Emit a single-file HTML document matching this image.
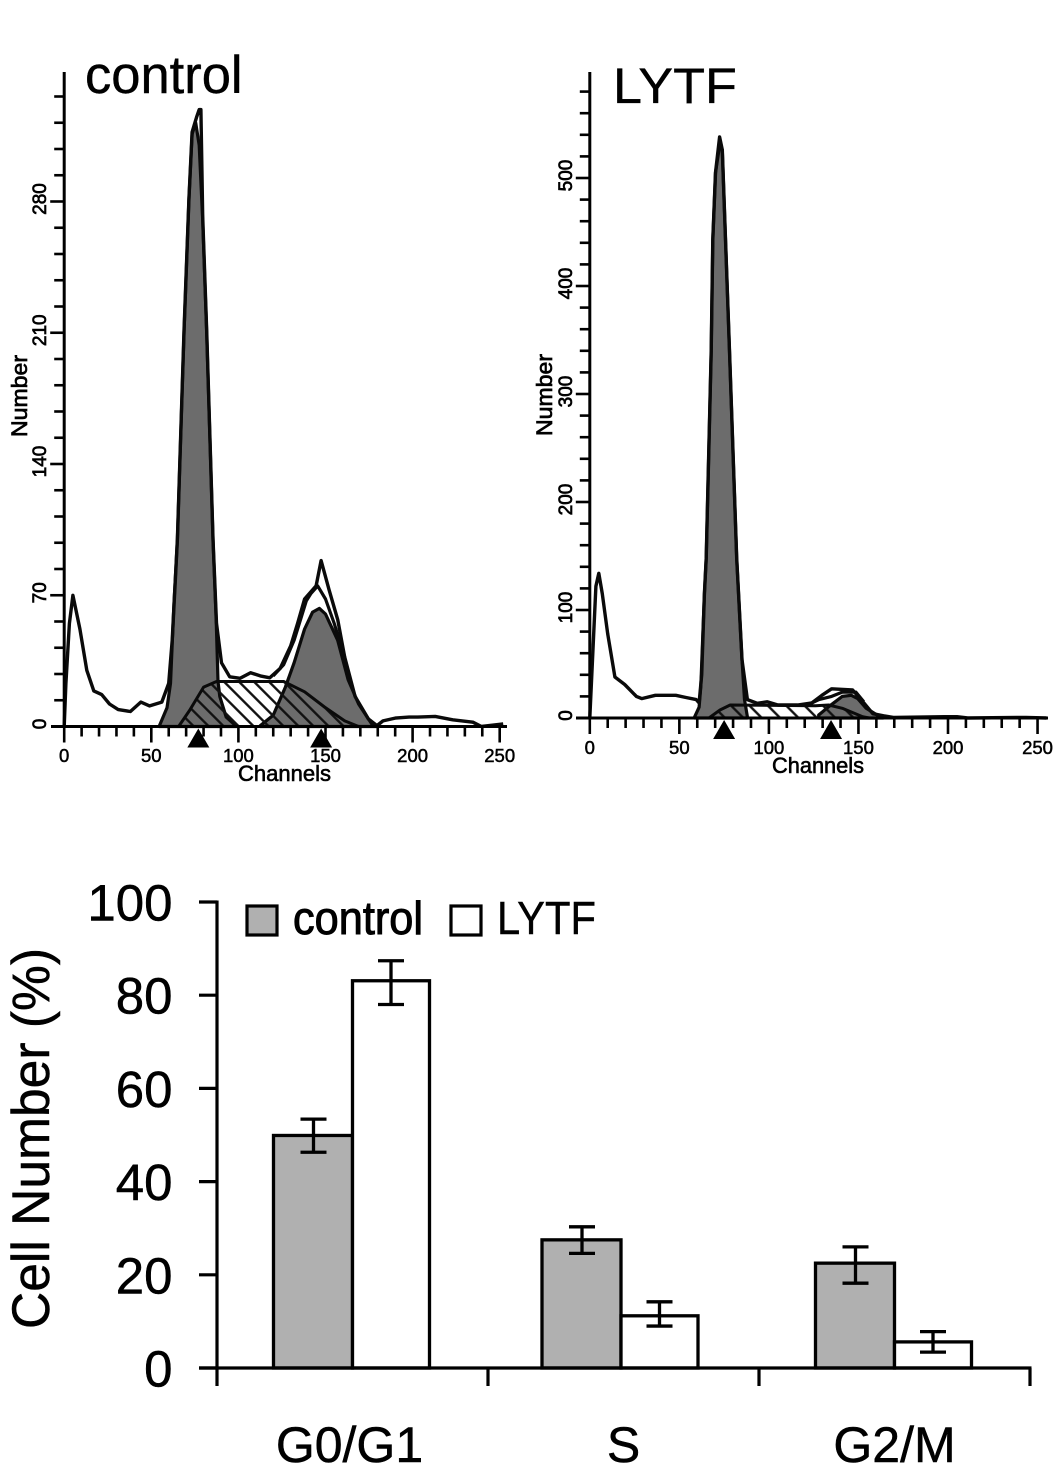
<!DOCTYPE html>
<html lang="en">
<head>
<meta charset="utf-8">
<title>Cell cycle histograms and phase distribution</title>
<style>
html,body{margin:0;padding:0;background:#fff;width:1063px;height:1466px;overflow:hidden}
svg{display:block;font-family:"Liberation Sans",Arial,sans-serif}
</style>
</head>
<body>
<svg id="figure" xmlns="http://www.w3.org/2000/svg" width="1063" height="1466" viewBox="0 0 1063 1466">
  <defs>
    <pattern id="hatch-control" patternUnits="userSpaceOnUse" width="10.6" height="10.6" patternTransform="rotate(-45)">
      <line x1="5" y1="0" x2="5" y2="10.6" stroke="#111" stroke-width="2.4"/>
    </pattern>
    <pattern id="hatch-lytf" patternUnits="userSpaceOnUse" width="13" height="13" patternTransform="rotate(-45)">
      <line x1="5" y1="0" x2="5" y2="13" stroke="#111" stroke-width="2.4"/>
    </pattern>
  </defs>
  <rect width="1063" height="1466" fill="#fff"/>
  <g id="control-panel">
    <text x="85" y="93" font-size="52.5" fill="#000" stroke="#000" stroke-width=".4">control</text>
    <text transform="translate(27 396) rotate(-90)" text-anchor="middle" font-size="22" textLength="82" lengthAdjust="spacingAndGlyphs" stroke="#000" stroke-width=".7">Number</text>
    <text x="284.5" y="781" text-anchor="middle" font-size="22" textLength="93" lengthAdjust="spacingAndGlyphs" stroke="#000" stroke-width=".6">Channels</text>
  </g>
  <g id="lytf-panel">
    <text x="613" y="103" font-size="50" fill="#000" textLength="124" lengthAdjust="spacingAndGlyphs" stroke="#000" stroke-width=".3">LYTF</text>
    <text transform="translate(552 395) rotate(-90)" text-anchor="middle" font-size="22" textLength="82" lengthAdjust="spacingAndGlyphs" stroke="#000" stroke-width=".7">Number</text>
    <text x="818" y="773" text-anchor="middle" font-size="22" textLength="92" lengthAdjust="spacingAndGlyphs" stroke="#000" stroke-width=".6">Channels</text>
  </g>
  <g id="bar-panel">
    <text transform="translate(49 1138.5) rotate(-90)" text-anchor="middle" font-size="53" textLength="381" lengthAdjust="spacingAndGlyphs" stroke="#000" stroke-width=".5">Cell Number (%)</text>
    <g>
      <rect x="247" y="906" width="30" height="29" fill="#b0b0b0" stroke="#000" stroke-width="3.2"/>
      <text x="293" y="934" font-size="46" textLength="130" lengthAdjust="spacingAndGlyphs" stroke="#000" stroke-width="1">control</text>
      <rect x="451" y="906" width="30" height="29" fill="#fff" stroke="#000" stroke-width="3.2"/>
      <text x="497" y="934" font-size="46" textLength="99" lengthAdjust="spacingAndGlyphs" stroke="#000" stroke-width=".4">LYTF</text>
    </g>
  </g>
</svg>
<script>
// ---- control histogram data ----
const controlObservedChannels = [0,1,3,5,9,13,17,21.5,26,31,38,44,49,56,60,62,64,65,68.8,71.6,73.4,76,77.5,78.5,79.5,81.8,85.4,87.4,90.3,95,101,107,112.6,118,124,130,134,138,144.6,147.5,152,157,161,167,174.6,179.5,183,190,198,203,213,223,234.6,239.5,252];
const controlObservedCounts = [0,23,55,70,52,30,19,17,12,9,8,13,11,13,23,46,82,100,211,281,317,325,329,329,272,211,100,55,34,26.5,25.7,28.7,27,26,31,43,55,68,75,88.5,73,57,37,16,4,0.5,3,4.5,5,5,5.4,3.6,2.3,0,1.4];
const controlFitChannels = [120,126,132,136,139,141.7,145.5,150,155,158,161];
const controlFitCounts = [27,33,46,58,67,71,75,68,55,46,37];
const controlG1Channels = [54.5,59,61,63,65,68.8,71.6,73.4,75.5,77.5,79.5,81.8,85.4,87.3,88.3,89.3,93,99];
const controlG1Counts = [0,10,23,65,100,210,281,316,322,310,270,210,100,55,24,16,5,0];
const controlSChannels = [66,72,80,87.4,126,138,149.4,161,169];
const controlSCounts = [0.5,8.6,21,24,24,18.5,10.4,3,0];
const controlG2Channels = [112.6,120,127,132,138,142.6,146.5,150,157,163,169,176.5,179.5];
const controlG2Counts = [0.5,6,21,34,52,61,63,60,46,25,12,1.4,0];
const controlMarkers = [77,147.5];
const controlYLabels = [0,70,140,210,280];
const controlYMinorStep = 14;
const controlYMax = 336;

// ---- LYTF histogram data ----
const lytfObservedChannels = [0,1.5,3.4,5,7,10,14,19.5,26,29,36.6,48,53.7,59.4,61,62.5,64,65,67.8,68.7,70.2,72.5,74,75.3,78,82,85,88,93.5,99,105,116,124,129.6,135,146.7,151.5,158,164,169.5,198,205,211,243.5,255];
const lytfObservedCounts = [0,54,122,134,115,78,38,31,20,18,21,21,19,17,14,40,115,148,340,443,505,538,526,464,340,148,54,17,13.6,15,12,12,14,21,27,26,17,4,2,0.6,1.2,1.2,0,0.6,0];
const lytfFitChannels = [124,128,135,141,148.6,153];
const lytfFitCounts = [14,17,20,24,24,15];
const lytfG1Channels = [58.5,61,62,64,65,67.8,68.7,70.2,72.5,74,75.3,78,82,85,86.4,88];
const lytfG1Counts = [1,10,29,115,148,340,443,505,530,526,464,340,148,54,17,1];
const lytfSChannels = [67,72.7,78.4,126,133.4,141,152.4,156];
const lytfSCounts = [0.6,7.4,12,11.4,12,9,1.2,0];
const lytfG2Channels = [127.8,133.4,141,146,149.6,154.3,162,164];
const lytfG2Counts = [2.8,10.5,20,21,18,9,1.2,0];
const lytfMarkers = [75,134.7];
const lytfYLabels = [0,100,200,300,400,500];
const lytfYMinorStep = 20;
const lytfYMax = 580;

const channelLabels = [0,50,100,150,200,250];
const channelMinorStep = 10;
const channelMax = 250;

// ---- bar chart data ----
const phaseCategories = ['G0/G1','S','G2/M'];
const controlPercent = [49.9,27.5,22.5];
const controlUpper = [53.4,30.3,26];
const controlLower = [46.3,24.6,18.2];
const lytfPercent = [83.1,11.2,5.6];
const lytfUpper = [87.4,14.2,7.8];
const lytfLower = [78,9,3.4];
const percentLabels = [0,20,40,60,80,100];

const NS = 'http://www.w3.org/2000/svg';
function make(parent, tag, attrs, text) {
  const el = document.createElementNS(NS, tag);
  for (const k in attrs) el.setAttribute(k, attrs[k]);
  if (text !== undefined) el.textContent = text;
  parent.appendChild(el);
  return el;
}

function drawHistogram(panel, o) {
  const x = c => o.x0 + c * o.xk;
  const y = c => o.y0 - c * o.yk;
  const pts = (chs, cts) => chs.map((c, i) => x(c).toFixed(1) + ',' + y(cts[i]).toFixed(1)).join(' ');
  const area = (chs, cts) => x(chs[0]).toFixed(1) + ',' + y(0).toFixed(1) + ' ' + pts(chs, cts) + ' ' + x(chs[chs.length - 1]).toFixed(1) + ',' + y(0).toFixed(1);

  const sBase = make(panel, 'polygon', {points: area(o.sCh, o.sCt), fill: '#fff'});
  
  

  const g1 = make(panel, 'polygon', {points: area(o.g1Ch, o.g1Ct), fill: '#6c6c6c', stroke: '#0a0a0a', 'stroke-width': 3.2, 'stroke-linejoin': 'round'});
  
  

  const g2 = make(panel, 'polygon', {points: area(o.g2Ch, o.g2Ct), fill: '#6c6c6c', stroke: '#0a0a0a', 'stroke-width': 3.2, 'stroke-linejoin': 'round'});
  
  

  const sHatch = make(panel, 'polygon', {points: area(o.sCh, o.sCt), fill: 'url(#' + o.hatch + ')', stroke: '#0a0a0a', 'stroke-width': 3, 'stroke-linejoin': 'round'});
  
  

  const fit = make(panel, 'polyline', {points: pts(o.fitCh, o.fitCt), fill: 'none', stroke: '#0a0a0a', 'stroke-width': 3.2, 'stroke-linejoin': 'round'});
  
  

  const obs = make(panel, 'polyline', {points: pts(o.obsCh, o.obsCt), fill: 'none', stroke: '#0a0a0a', 'stroke-width': 3.4, 'stroke-linejoin': 'round'});
  
  

  const yAxis = make(panel, 'line', {x1: x(0), x2: x(0), y1: 72, y2: y(0), stroke: '#000', 'stroke-width': 3});
  
  

  const xAxis = make(panel, 'line', {x1: o.xAxisStart, x2: o.xAxisEnd, y1: y(0), y2: y(0), stroke: '#000', 'stroke-width': 3});
  
  

  for (let v = o.yStep; v <= o.yMax; v += o.yStep) {
    const major = o.yLabels.includes(v);
    const t = make(panel, 'line', {x1: x(0) - (major ? 14 : 10), x2: x(0), y1: y(v), y2: y(v), stroke: '#000', 'stroke-width': 2.6});
    
    
  }
  o.yLabels.forEach(v => {
    const lbl = make(panel, 'text', {transform: 'translate(' + o.yLabelX + ' ' + (y(v) - 2.5) + ') rotate(-90)', 'text-anchor': 'middle', 'font-size': 19, stroke: '#000', 'stroke-width': 0.7}, v);
    
    
  });
  for (let c = 0; c <= channelMax; c += channelMinorStep) {
    const major = channelLabels.includes(c);
    const t = make(panel, 'line', {x1: x(c), x2: x(c), y1: y(0), y2: y(0) + (major ? 16 : 10), stroke: '#000', 'stroke-width': 2.6});
    
    
  }
  channelLabels.forEach(c => {
    const lbl = make(panel, 'text', {x: x(c), y: o.xLabelY, 'text-anchor': 'middle', 'font-size': 18.5, stroke: '#000', 'stroke-width': 0.5}, c);
    
    
  });
  o.markers.forEach(c => {
    const top = y(0) + 2;
    const m = make(panel, 'polygon', {points: (x(c) - 11) + ',' + (top + 19) + ' ' + x(c) + ',' + top + ' ' + (x(c) + 11) + ',' + (top + 19), fill: '#000'});
    
    
  });
}

drawHistogram(document.getElementById('control-panel'), {
  x0: 64.2, xk: 1.742, y0: 726.5, yk: 1.875, xAxisStart: 51, xAxisEnd: 507, yLabelX: 46, xLabelY: 762, hatch: 'hatch-control',
  obsCh: controlObservedChannels, obsCt: controlObservedCounts,
  fitCh: controlFitChannels, fitCt: controlFitCounts,
  g1Ch: controlG1Channels, g1Ct: controlG1Counts,
  sCh: controlSChannels, sCt: controlSCounts,
  g2Ch: controlG2Channels, g2Ct: controlG2Counts,
  markers: controlMarkers, yLabels: controlYLabels, yStep: controlYMinorStep, yMax: controlYMax
});

drawHistogram(document.getElementById('lytf-panel'), {
  x0: 589.8, xk: 1.791, y0: 718, yk: 1.08, xAxisStart: 576, xAxisEnd: 1048, yLabelX: 572, xLabelY: 754, hatch: 'hatch-lytf',
  obsCh: lytfObservedChannels, obsCt: lytfObservedCounts,
  fitCh: lytfFitChannels, fitCt: lytfFitCounts,
  g1Ch: lytfG1Channels, g1Ct: lytfG1Counts,
  sCh: lytfSChannels, sCt: lytfSCounts,
  g2Ch: lytfG2Channels, g2Ct: lytfG2Counts,
  markers: lytfMarkers, yLabels: lytfYLabels, yStep: lytfYMinorStep, yMax: lytfYMax
});

// ---- bar chart ----
(function () {
  const panel = document.getElementById('bar-panel');
  const left = 217, step = 271, baseY = 1368, k = 4.66;
  const barW = 78;
  const y = v => baseY - v * k;
  const band = i => left + step * (i + 0.5) - (i === 1 ? 2.5 : 0);

  phaseCategories.forEach((name, i) => {
    const c = band(i);
    const gray = make(panel, 'rect', {x: c - barW - 1, y: y(controlPercent[i]), width: barW + 1, height: baseY - y(controlPercent[i]), fill: '#b0b0b0', stroke: '#000', 'stroke-width': 3.3});
    
    
    const white = make(panel, 'rect', {x: c, y: y(lytfPercent[i]), width: barW - 1, height: baseY - y(lytfPercent[i]), fill: '#fff', stroke: '#000', 'stroke-width': 3.3});
    
    

    [[c - barW / 2, controlUpper[i], controlLower[i], 'error-bar-control'], [c + barW / 2 - 0.5, lytfUpper[i], lytfLower[i], 'error-bar-lytf']].forEach(e => {
      const d = 'M' + e[0] + ' ' + y(e[1]) + 'V' + y(e[2]) + 'M' + (e[0] - 13) + ' ' + y(e[1]) + 'H' + (e[0] + 13) + 'M' + (e[0] - 13) + ' ' + y(e[2]) + 'H' + (e[0] + 13);
      const err = make(panel, 'path', {d: d, fill: 'none', stroke: '#000', 'stroke-width': 3.3});
      
      
    });

    const lbl = make(panel, 'text', {x: c - (i === 0 ? 3 : 0) + (i === 1 ? 2.5 : 0), y: 1462, 'text-anchor': 'middle', 'font-size': 50, stroke: '#000', 'stroke-width': 0.5}, name);
    
    
  });

  const yAxis = make(panel, 'line', {x1: left, x2: left, y1: y(100) - 1.5, y2: baseY, stroke: '#000', 'stroke-width': 3.2});
  
  
  const xAxis = make(panel, 'line', {x1: 199, x2: left + step * phaseCategories.length + 1.5, y1: baseY, y2: baseY, stroke: '#000', 'stroke-width': 3.2});
  
  

  percentLabels.forEach(v => {
    const t = make(panel, 'line', {x1: 199, x2: left, y1: y(v), y2: y(v), stroke: '#000', 'stroke-width': 3.2});
    
    
    const lbl = make(panel, 'text', {x: 172.5, y: y(v) + 18.5, 'text-anchor': 'end', 'font-size': 51, stroke: '#000', 'stroke-width': 0.5}, v);
    
    
  });
  for (let i = 0; i <= phaseCategories.length; i++) {
    const t = make(panel, 'line', {x1: left + step * i, x2: left + step * i, y1: baseY, y2: 1386, stroke: '#000', 'stroke-width': 3.2});
    
    
  }
})();
</script>
</body>
</html>
